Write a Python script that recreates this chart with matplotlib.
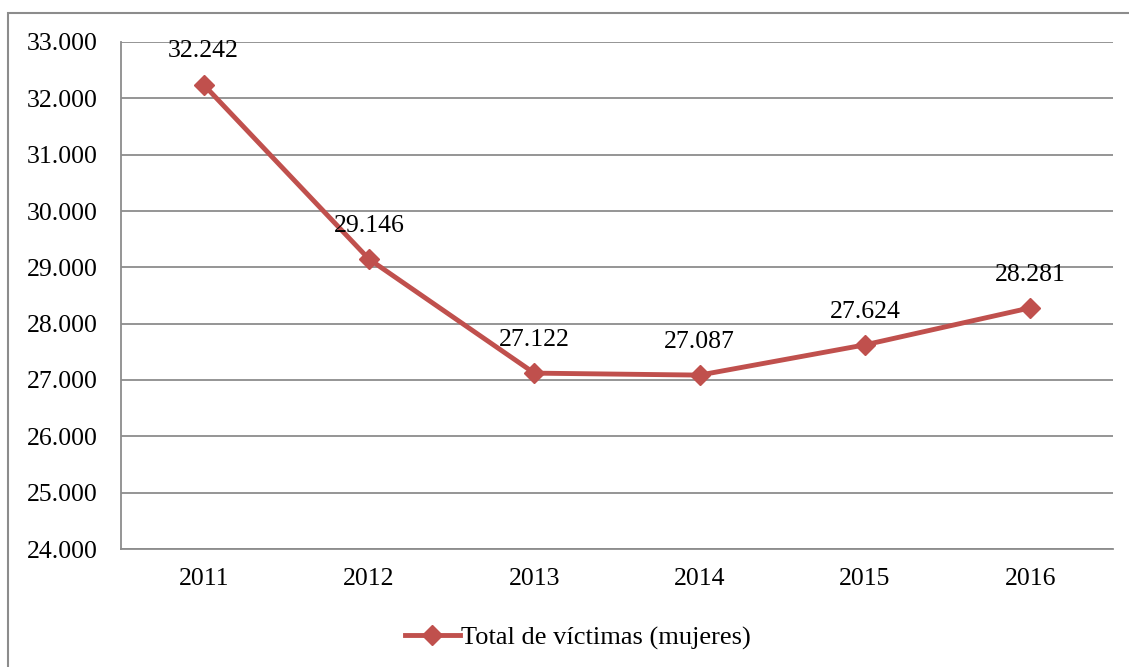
import numpy as np
import matplotlib.pyplot as plt
from matplotlib.ticker import FuncFormatter
from matplotlib.patches import Rectangle

years = ["2011", "2012", "2013", "2014", "2015", "2016"]
victimas = [32242, 29146, 27122, 27087, 27624, 28281]

def miles(v, pos=None):
    return "{:,.0f}".format(v).replace(",", ".")

plt.rcParams["font.family"] = ["Liberation Serif", "DejaVu Serif"]

fig = plt.figure(figsize=(11.29, 6.67), dpi=100)
ax = fig.add_axes([121/1129, 1-549/667, (1113-121)/1129, (549-42)/667])

x = np.arange(len(years))
ax.plot(x, victimas, color="#C0504D", lw=3.5, marker="D", ms=10.5,
        label="Total de víctimas (mujeres)")

for xi, v in zip(x, victimas):
    ax.annotate(miles(v), (xi, v), xytext=(0, 24), textcoords="offset points",
                ha="center", va="center", fontsize=18.5)

ax.set_xlim(-0.5, len(years) - 0.5)
ax.set_ylim(24000, 33000)
ax.set_yticks(np.arange(24000, 33001, 1000))
ax.yaxis.set_major_formatter(FuncFormatter(miles))
ax.set_xticks(x)
ax.set_xticklabels(years)
ax.tick_params(axis="both", length=0, labelsize=18.5)
ax.tick_params(axis="y", pad=17)
ax.tick_params(axis="x", pad=14)
ax.grid(axis="y", color="#8c8c8c", lw=1.3)
ax.set_axisbelow(True)
for s in ["top", "right"]:
    ax.spines[s].set_visible(False)
for s in ["left", "bottom"]:
    ax.spines[s].set_color("#8c8c8c")
    ax.spines[s].set_linewidth(1.3)

fig.legend(loc="center", bbox_to_anchor=(578/1129, 1-638/667), frameon=False,
           fontsize=19, handlelength=2.1, handletextpad=0.05)

fig.patches.append(Rectangle((8/1129, -0.05), 1.2, 1-13/667+0.05,
                             transform=fig.transFigure, fill=False,
                             edgecolor="#8c8c8c", lw=1.5))

fig.savefig("out.png", dpi=100)
